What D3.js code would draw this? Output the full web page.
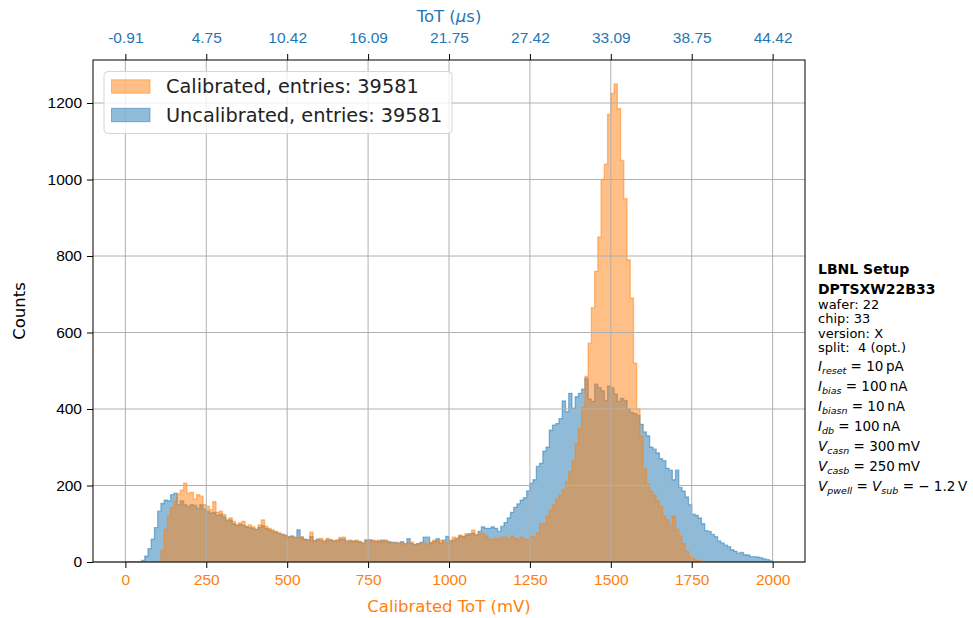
<!DOCTYPE html>
<html>
<head>
<meta charset="utf-8">
<script src="https://cdn.jsdelivr.net/npm/d3@7"></script>
<style>
  body { margin: 0; background: #fff; }
  svg { font-family: "DejaVu Sans", sans-serif; }
</style>
</head>
<body>
<div id="chart"></div>
<script>
// bins: 10 mV wide, 0..2000
const binEdges = d3.range(0, 2001, 10);

const calibrated = [
  0, 0, 0, 0, 0, 0, 0, 0, 0, 0, 2, 30, 85, 120, 142, 160, 178, 188, 206, 180,
  182, 165, 176, 172, 150, 146, 137, 158, 130, 133, 124, 112, 115, 106, 98, 102, 106, 94, 97, 92,
  85, 97, 110, 93, 88, 84, 80, 76, 72, 68, 64, 66, 62, 63, 66, 58, 57, 78, 54, 58,
  62, 50, 62, 58, 55, 58, 64, 65, 50, 57, 52, 57, 54, 48, 56, 52, 57, 52, 57, 52,
  57, 50, 48, 52, 48, 50, 48, 50, 52, 44, 48, 50, 50, 45, 52, 57, 52, 57, 52, 50,
  57, 65, 62, 70, 67, 74, 70, 83, 70, 75, 75, 68, 60, 58, 62, 60, 65, 64, 60, 68,
  62, 58, 65, 60, 58, 66, 64, 76, 100, 100, 120, 137, 150, 165, 175, 190, 210, 236, 265, 310,
  350, 405, 485, 572, 665, 760, 850, 1000, 1040, 1170, 1225, 1250, 1185, 1050, 950, 790, 690, 520, 400, 330,
  245, 205, 185, 175, 160, 145, 120, 110, 95, 120, 85, 68, 48, 28, 15, 9, 5, 3, 2, 1,
  0, 1, 0, 0, 0, 0, 0, 0, 0, 0, 0, 0, 0, 0, 0, 0, 0, 0, 0, 0
];

const uncalibrated = [
  0, 0, 0, 0, 0, 4, 15, 35, 60, 90, 133, 153, 162, 160, 176, 180, 150, 160, 150, 145,
  150, 148, 140, 150, 138, 132, 128, 130, 122, 125, 118, 108, 110, 100, 95, 98, 96, 92, 90, 88,
  85, 90, 95, 88, 84, 80, 78, 75, 72, 70, 66, 68, 65, 84, 64, 60, 58, 66, 56, 60,
  57, 55, 58, 58, 55, 56, 60, 60, 55, 55, 55, 54, 52, 50, 58, 58, 56, 55, 53, 57,
  55, 53, 51, 50, 50, 53, 48, 61, 48, 46, 48, 51, 65, 65, 50, 54, 61, 50, 57, 67,
  54, 57, 62, 68, 66, 70, 74, 75, 70, 80, 92, 88, 88, 92, 88, 80, 93, 103, 115, 130,
  143, 152, 162, 168, 186, 206, 215, 250, 258, 290, 300, 345, 358, 362, 375, 421, 393, 441, 402, 432,
  441, 452, 480, 426, 420, 465, 456, 448, 422, 460, 455, 439, 420, 428, 422, 400, 391, 388, 383, 360,
  340, 330, 300, 295, 285, 270, 265, 245, 240, 215, 240, 195, 185, 170, 150, 125, 122, 115, 100, 82,
  80, 72, 66, 55, 50, 44, 40, 32, 28, 23, 25, 19, 18, 14, 14, 13, 11, 8, 6, 3
];

const xTicks = [0, 250, 500, 750, 1000, 1250, 1500, 1750, 2000];
const topTickLabels = ["-0.91", "4.75", "10.42", "16.09", "21.75", "27.42", "33.09", "38.75", "44.42"];
const yTicks = [0, 200, 400, 600, 800, 1000, 1200];

const seriesNames = ["Calibrated, entries: 39581", "Uncalibrated, entries: 39581"];

const infoBold = ["LBNL Setup", "DPTSXW22B33"];
const infoPlain = ["wafer: 22", "chip: 33", "version: X", "split:  4 (opt.)"];
// [symbol, subscript, rest]  ("|" marks a second symbol/subscript pair)
const infoMath = [
  ["I", "reset", "= 10\u2009pA"],
  ["I", "bias", "= 100\u2009nA"],
  ["I", "biasn", "= 10\u2009nA"],
  ["I", "db", "= 100\u2009nA"],
  ["V", "casn", "= 300\u2009mV"],
  ["V", "casb", "= 250\u2009mV"],
  ["V", "pwell", "= |V|sub|= \u2212 1.2\u2009V"]
];

const BLUE = "#1f77b4", ORANGE = "#ff7f0e";

const W = 973, H = 618;
const m = { left: 93, right: 805, top: 60, bottom: 562 };

const svg = d3.select("#chart").append("svg")
  .attr("width", W).attr("height", H);

const x = d3.scaleLinear().domain([-100, 2100]).range([m.left, m.right]);
const yMax = d3.max(calibrated.concat(uncalibrated)) * 1.05;
const y = d3.scaleLinear().domain([0, yMax]).range([m.bottom, m.top]);

svg.append("clipPath").attr("id", "clip")
  .append("rect").attr("x", m.left).attr("y", m.top)
  .attr("width", m.right - m.left).attr("height", m.bottom - m.top);

function stepPoints(counts) {
  const pts = [[binEdges[0], 0]];
  counts.forEach((c, i) => {
    pts.push([binEdges[i], c]);
    pts.push([binEdges[i + 1], c]);
  });
  pts.push([binEdges[binEdges.length - 1], 0]);
  return pts;
}

const line = d3.line().x(d => x(d[0])).y(d => y(d[1]));

const plot = svg.append("g").attr("clip-path", "url(#clip)");

[[uncalibrated, BLUE], [calibrated, ORANGE]].forEach(([counts, col]) => {
  plot.append("path")
    .attr("d", line(stepPoints(counts)) + "Z")
    .attr("fill", col).attr("fill-opacity", 0.5)
    .attr("stroke", col).attr("stroke-opacity", 0.5)
    .attr("stroke-width", 1.3);
});

// grid over the patches, like matplotlib
const grid = svg.append("g").attr("stroke", "#b0b0b0").attr("stroke-width", 1);
xTicks.forEach(t => grid.append("line")
  .attr("x1", x(t)).attr("x2", x(t)).attr("y1", m.top).attr("y2", m.bottom));
yTicks.forEach(t => grid.append("line")
  .attr("x1", m.left).attr("x2", m.right).attr("y1", y(t)).attr("y2", y(t)));

svg.append("rect")
  .attr("x", m.left).attr("y", m.top)
  .attr("width", m.right - m.left).attr("height", m.bottom - m.top)
  .attr("fill", "none").attr("stroke", "#000").attr("stroke-width", 1);

function styleAxis(g, col) {
  g.select(".domain").remove();
  g.selectAll(".tick line").attr("stroke", "#000");
  g.selectAll(".tick text").attr("fill", col).style("font-size", "15.5px");
}

svg.append("g").attr("transform", `translate(0,${m.bottom})`)
  .call(d3.axisBottom(x).tickValues(xTicks).tickSize(6).tickPadding(6)
    .tickFormat(d3.format("d")))
  .call(g => styleAxis(g, ORANGE));

svg.append("g").attr("transform", `translate(0,${m.top})`)
  .call(d3.axisTop(x).tickValues(xTicks).tickSize(6).tickPadding(11)
    .tickFormat((d, i) => topTickLabels[i]))
  .call(g => styleAxis(g, BLUE));

svg.append("g").attr("transform", `translate(${m.left},0)`)
  .call(d3.axisLeft(y).tickValues(yTicks).tickSize(6).tickPadding(5)
    .tickFormat(d3.format("d")))
  .call(g => styleAxis(g, "#000"));

svg.append("text")
  .attr("x", (m.left + m.right) / 2).attr("y", 612)
  .attr("text-anchor", "middle").attr("fill", ORANGE)
  .style("font-size", "16.5px").text("Calibrated ToT (mV)");

svg.append("text")
  .attr("x", (m.left + m.right) / 2).attr("y", 22)
  .attr("text-anchor", "middle").attr("fill", BLUE)
  .style("font-size", "16.5px")
  .html('ToT (<tspan font-style="italic">\u03bc</tspan>s)');

svg.append("text")
  .attr("transform", `translate(25,${(m.top + m.bottom) / 2}) rotate(-90)`)
  .attr("text-anchor", "middle").attr("fill", "#000")
  .style("font-size", "16.5px").text("Counts");

// legend
const lg = svg.append("g");
lg.append("rect")
  .attr("x", 104).attr("y", 71.5).attr("width", 348).attr("height", 62)
  .attr("rx", 4).attr("fill", "#fff").attr("fill-opacity", 0.8)
  .attr("stroke", "#d5d5d5").attr("stroke-width", 1);
[ORANGE, BLUE].forEach((col, i) => {
  const cy = 86.5 + i * 28.5;
  lg.append("rect")
    .attr("x", 111.5).attr("y", cy - 6.7).attr("width", 38.5).attr("height", 13.4)
    .attr("fill", col).attr("fill-opacity", 0.5)
    .attr("stroke", col).attr("stroke-opacity", 0.5);
  lg.append("text")
    .attr("x", 166).attr("y", cy).attr("dy", "0.36em")
    .attr("fill", "#222").style("font-size", "19.3px")
    .text(seriesNames[i]);
});

// setup info
const info = svg.append("g").attr("transform", "translate(818,0)")
  .style("white-space", "pre");
infoBold.forEach((t, i) => {
  info.append("text").attr("x", 0).attr("y", 274 + i * 20)
    .style("font-size", "14px").style("font-weight", "bold").text(t);
});
infoPlain.forEach((t, i) => {
  info.append("text").attr("x", 0).attr("y", 308.5 + i * 14.5)
    .attr("xml:space", "preserve")
    .style("font-size", "13px").text(t);
});
infoMath.forEach((row, i) => {
  const t = info.append("text").attr("x", 0).attr("y", 370.5 + i * 20)
    .style("font-size", "13.5px");
  t.append("tspan").attr("font-style", "italic").text(row[0]);
  t.append("tspan").attr("font-style", "italic").attr("font-size", "9.5px")
    .attr("dy", 3).text(row[1]);
  const parts = row[2].split("|");
  t.append("tspan").attr("dy", -3).text(" " + parts[0]);
  if (parts.length > 1) {
    t.append("tspan").attr("font-style", "italic").text(parts[1]);
    t.append("tspan").attr("font-style", "italic").attr("font-size", "9.5px")
      .attr("dy", 3).text(parts[2]);
    t.append("tspan").attr("dy", -3).text(" " + parts[3]);
  }
});
</script>
</body>
</html>
